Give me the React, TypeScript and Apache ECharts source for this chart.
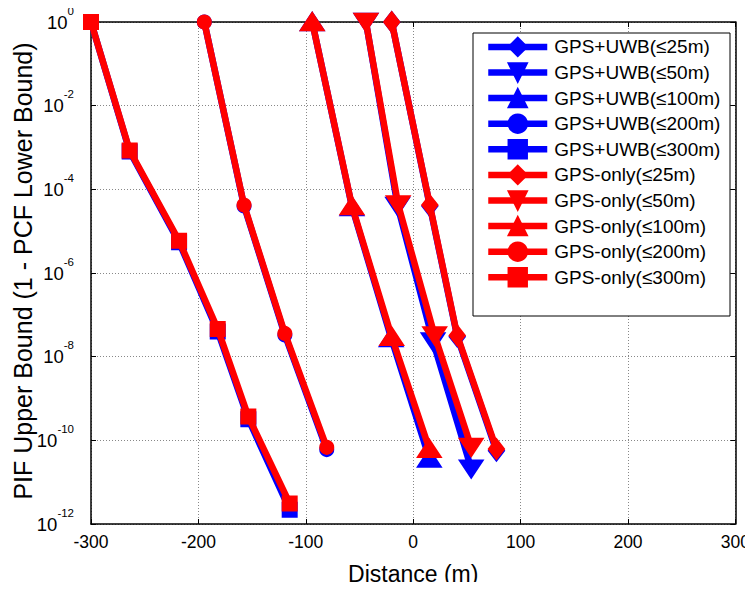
import React, { useEffect, useRef } from "react";
import * as echarts from "echarts";

// ---- data (distance in m, PIF upper bound) ----
const uwb25Dist = [-20, 15.5, 41, 77.5];
const uwb25Pif = [1, 4.0e-5, 3.0e-8, 5.6e-11];
const uwb50Dist = [-44, -14.5, 18.5, 54];
const uwb50Pif = [1, 4.0e-5, 2.3e-8, 2.1e-11];
const uwb100Dist = [-94, -57, -20.5, 15];
const uwb100Pif = [1, 3.8e-5, 2.8e-8, 3.7e-11];
const uwb200Dist = [-194.5, -157.5, -119.5, -80.5];
const uwb200Pif = [1, 4.0e-5, 3.3e-8, 6.0e-11];
const uwb300Dist = [-300, -264, -218, -182, -153.5, -115];
const uwb300Pif = [1, 8.0e-4, 5.4e-6, 4.0e-8, 3.2e-10, 2.2e-12];

const gps25Dist = [-20, 15.5, 41, 77.5];
const gps25Pif = [1, 4.2e-5, 3.2e-8, 6.2e-11];
const gps50Dist = [-44, -14, 20, 54];
const gps50Pif = [1, 4.3e-5, 3.2e-8, 6.9e-11];
const gps100Dist = [-94, -57, -20, 15];
const gps100Pif = [1, 4.0e-5, 3.0e-8, 6.3e-11];
const gps200Dist = [-194.5, -157.5, -119.5, -80.5];
const gps200Pif = [1, 4.2e-5, 3.6e-8, 6.8e-11];
const gps300Dist = [-300, -264, -218, -182, -153.5, -115];
const gps300Pif = [1, 8.5e-4, 5.9e-6, 4.6e-8, 3.7e-10, 3.1e-12];

const seriesNames = [
  "GPS+UWB(≤25m)",
  "GPS+UWB(≤50m)",
  "GPS+UWB(≤100m)",
  "GPS+UWB(≤200m)",
  "GPS+UWB(≤300m)",
  "GPS-only(≤25m)",
  "GPS-only(≤50m)",
  "GPS-only(≤100m)",
  "GPS-only(≤200m)",
  "GPS-only(≤300m)",
];

const xTicks = { min: -300, max: 300, step: 100 };
const yExpTicks = { min: -12, max: 0, step: 2 };
const xAxisTitle = "Distance (m)";
const yAxisTitle = "PIF Upper Bound (1 - PCF Lower Bound)";

const FONT = "'Liberation Sans', Arial, Helvetica, sans-serif";
const BLUE = "#0000ff";
const RED = "#ff0000";

const DOWN_TRI = "path://M0,0L10,0L5,8Z";

const markers = [
  { symbol: "diamond", size: [14, 18] },
  { symbol: DOWN_TRI, size: [21, 16] },
  { symbol: "triangle", size: [21, 16] },
  { symbol: "circle", size: [12, 12] },
  { symbol: "rect", size: [13, 13] },
];

function toPoints(xs: number[], ys: number[]) {
  return xs.map((x, i) => [x, Math.log10(ys[i])]);
}

export default function App() {
  const ref = useRef<HTMLDivElement>(null);
  useEffect(() => {
    if (!ref.current) return;
    const chart = echarts.init(ref.current, null, { renderer: "svg" });

    const groups = [
      [uwb25Dist, uwb25Pif],
      [uwb50Dist, uwb50Pif],
      [uwb100Dist, uwb100Pif],
      [uwb200Dist, uwb200Pif],
      [uwb300Dist, uwb300Pif],
      [gps25Dist, gps25Pif],
      [gps50Dist, gps50Pif],
      [gps100Dist, gps100Pif],
      [gps200Dist, gps200Pif],
      [gps300Dist, gps300Pif],
    ];

    const series = groups.map((g, i) => {
      const color = i < 5 ? BLUE : RED;
      const m = markers[i % 5];
      return {
        type: "line",
        name: seriesNames[i],
        data: toPoints(g[0] as number[], g[1] as number[]),
        symbol: m.symbol,
        symbolSize: m.size,
        showAllSymbol: true,
        lineStyle: { color, width: 6.5 },
        itemStyle: { color, borderColor: color, borderWidth: 3 },
        emphasis: { disabled: true },
        z: i < 5 ? 2 : 3,
      };
    });

    const axisCommon = {
      min: xTicks.min,
      max: xTicks.max,
      interval: xTicks.step,
    };

    chart.setOption({
      animation: false,
      backgroundColor: "#ffffff",
      textStyle: { fontFamily: FONT },
      grid: { left: 91, top: 22, right: 17, bottom: 60.5, containLabel: false },
      xAxis: [
        {
          type: "value",
          ...axisCommon,
          position: "bottom",
          name: xAxisTitle,
          nameLocation: "middle",
          nameGap: 38,
          nameTextStyle: { color: "#000", fontSize: 23, fontFamily: FONT },
          axisLine: { show: true, onZero: false, lineStyle: { color: "#000", width: 1.5 } },
          axisTick: { show: true, inside: true, length: 5, lineStyle: { color: "#000" } },
          axisLabel: { color: "#000", fontSize: 17.5, margin: 9, fontFamily: FONT },
          splitLine: { show: true, lineStyle: { color: "#888", type: [1, 2], width: 1 } },
        },
        {
          type: "value",
          ...axisCommon,
          position: "top",
          axisLine: { show: true, onZero: false, lineStyle: { color: "#000", width: 1.5 } },
          axisTick: { show: true, inside: true, length: 5, lineStyle: { color: "#000" } },
          axisLabel: { show: false },
          splitLine: { show: false },
        },
      ],
      yAxis: [
        {
          type: "value",
          min: yExpTicks.min,
          max: yExpTicks.max,
          interval: yExpTicks.step,
          position: "left",
          axisLine: { show: true, onZero: false, lineStyle: { color: "#000", width: 1.5 } },
          axisTick: { show: true, inside: true, length: 5, lineStyle: { color: "#000" } },
          axisLabel: {
            margin: 17,
            formatter: (v: number) => `{b|10}{s|${v}}`,
            rich: {
              b: { fontSize: 18.5, color: "#000", fontFamily: FONT, lineHeight: 18 },
              s: { fontSize: 11.5, color: "#000", fontFamily: FONT, lineHeight: 11, padding: [0, 0, 23, 0] },
            },
          },
          splitLine: { show: true, lineStyle: { color: "#888", type: [1, 2], width: 1 } },
        },
        {
          type: "value",
          min: yExpTicks.min,
          max: yExpTicks.max,
          interval: yExpTicks.step,
          position: "right",
          axisLine: { show: true, onZero: false, lineStyle: { color: "#000", width: 1.5 } },
          axisTick: { show: true, inside: true, length: 5, lineStyle: { color: "#000" } },
          axisLabel: { show: false },
          splitLine: { show: false },
        },
      ],
      legend: {
        show: true,
        orient: "vertical",
        left: 485,
        top: 36.7,
        padding: 0,
        itemWidth: 59,
        itemHeight: 23,
        itemGap: 5.2,
        z: 6,
        selectedMode: false,
        lineStyle: { width: 6.5 },
        textStyle: { color: "#000", fontSize: 19, fontFamily: FONT, padding: [0, 0, 0, 2] },
        data: seriesNames,
      },
      graphic: [
        {
          type: "rect",
          z: 5,
          shape: { x: 473, y: 33, width: 257, height: 283 },
          style: { fill: "#fff", stroke: "#000", lineWidth: 1 },
        },
        {
          type: "text",
          z: 5,
          x: 23,
          y: 271,
          rotation: Math.PI / 2,
          style: {
            text: yAxisTitle,
            fill: "#000",
            font: `25px ${FONT}`,
            align: "center",
            verticalAlign: "middle",
          },
        },
      ],
      series,
    });
    return () => chart.dispose();
  }, []);
  return <div ref={ref} style={{ width: 753, height: 590, margin: -8 }} />;
}
